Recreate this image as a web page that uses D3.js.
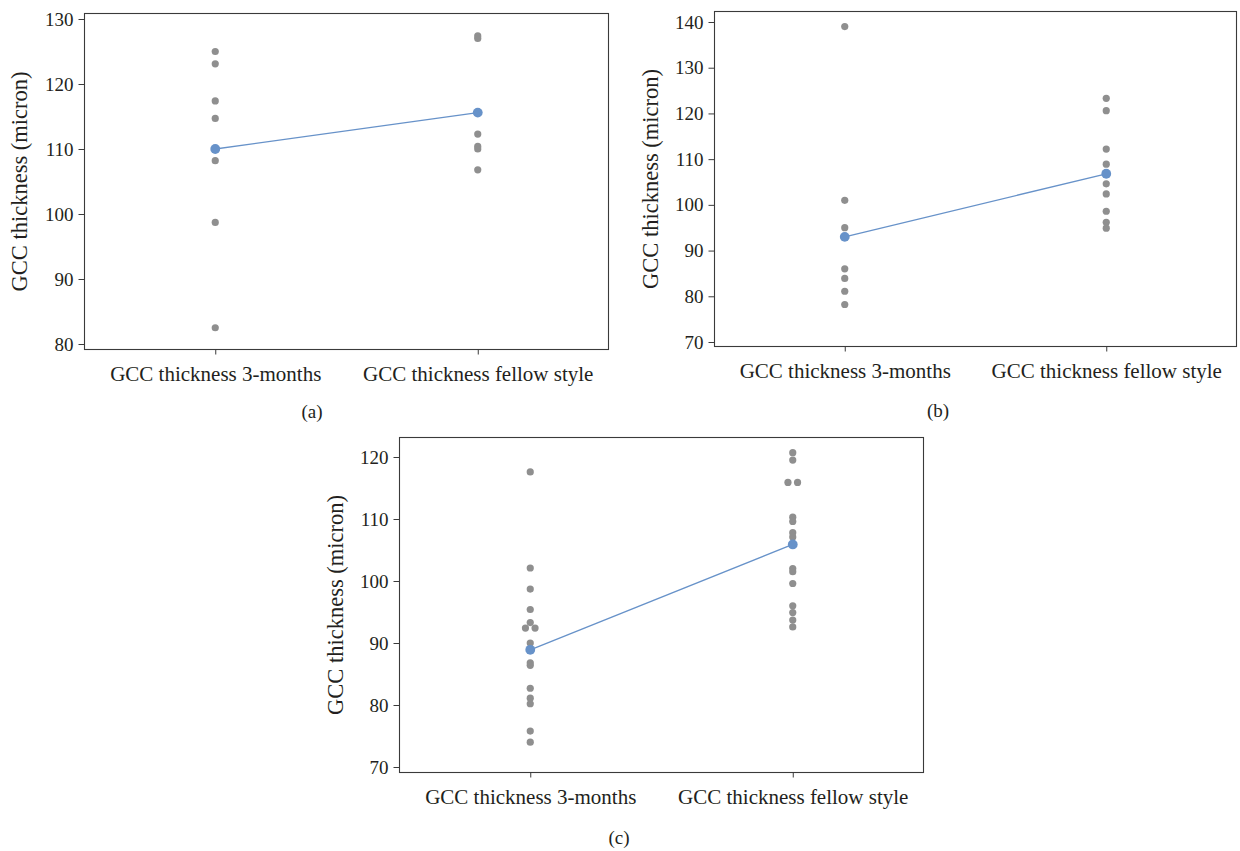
<!DOCTYPE html>
<html>
<head>
<meta charset="utf-8">
<script src="https://cdn.jsdelivr.net/npm/d3@7"></script>
<style>
  html, body { margin: 0; padding: 0; background: #fff; }
  svg { display: block; }
  text { font-family: "Liberation Serif", "Times New Roman", serif; fill: #231f20; }
</style>
</head>
<body>
<svg id="chart" width="1240" height="851"></svg>
<script>
// ---------- data ----------
const categories = ["GCC thickness 3-months", "GCC thickness fellow style"];
const yTitle = "GCC thickness (micron)";

// panel (a)
const aThreeMonths = [125.0, 123.1, 117.4, 114.7, 108.2, 98.7, 82.5];
const aFellow      = [127.4, 127.0, 112.3, 110.4, 110.0, 106.8];
const aMeans       = [110.0, 115.6];
const aTicks       = [80, 90, 100, 110, 120, 130];

// panel (b)
const bThreeMonths = [139.0, 101.0, 95.0, 86.0, 83.9, 81.1, 78.2];
const bFellow      = [123.3, 120.6, 112.2, 108.9, 104.6, 102.4, 98.6, 96.2, 94.9];
const bMeans       = [93.0, 106.8];
const bTicks       = [70, 80, 90, 100, 110, 120, 130, 140];

// panel (c)
const cThreeMonths = [117.6, 102.1, 98.7, 95.4, 93.3, 92.4, 92.4, 90.0, 86.8, 86.4, 82.7, 81.1, 80.2, 75.8, 74.0];
const cFellow      = [120.7, 119.5, 115.9, 115.9, 110.3, 109.6, 107.8, 107.1, 102.0, 101.5, 99.6, 96.0, 94.9, 93.7, 92.6];
const cMeans       = [88.9, 105.9];
const cTicks       = [70, 80, 90, 100, 110, 120];

const panelLabels = ["(a)", "(b)", "(c)"];

// ---------- layout ----------
const panels = [
  { label: panelLabels[0], groups: [aThreeMonths, aFellow], means: aMeans, ticks: aTicks,
    box: { left: 84, right: 609, top: 13, bottom: 350 }, yDomain: [80, 130], yRange: [344, 19],
    titleX: 19, labelX: 312, labelY: 411 },
  { label: panelLabels[1], groups: [bThreeMonths, bFellow], means: bMeans, ticks: bTicks,
    box: { left: 714, right: 1237, top: 11, bottom: 347 }, yDomain: [70, 140], yRange: [342, 22],
    titleX: 650, labelX: 938, labelY: 410 },
  { label: panelLabels[2], groups: [cThreeMonths, cFellow], means: cMeans, ticks: cTicks,
    box: { left: 399, right: 924, top: 437, bottom: 773 }, yDomain: [70, 120], yRange: [767, 457],
    titleX: 335, labelX: 619, labelY: 837 }
];

const GRAY = "#8f8f8f";
const BLUE = "#6792c9";
const AXIS = "#3a3a3a";
const SERIF = '"Liberation Serif", "Times New Roman", serif';

const svg = d3.select("#chart");

panels.forEach(p => {
  const g = svg.append("g");
  const x = d3.scalePoint().domain(categories).range([p.box.left, p.box.right]).padding(0.5);
  const y = d3.scaleLinear().domain(p.yDomain).range(p.yRange);

  // frame
  g.append("rect")
    .attr("x", p.box.left + 0.5).attr("y", p.box.top + 0.5)
    .attr("width", p.box.right - p.box.left - 1).attr("height", p.box.bottom - p.box.top - 1)
    .attr("fill", "none").attr("stroke", AXIS).attr("stroke-width", 1.1);

  // y axis
  const yAxis = d3.axisLeft(y).tickValues(p.ticks).tickSize(6).tickPadding(5);
  const ya = g.append("g").attr("transform", `translate(${p.box.left + 0.5},0)`).call(yAxis)
    .attr("font-family", SERIF);
  ya.select(".domain").remove();
  ya.selectAll(".tick line").attr("stroke", AXIS);
  ya.selectAll(".tick text").style("font-family", SERIF)
    .style("font-size", "19px").attr("fill", "#231f20");

  // x axis
  const xAxis = d3.axisBottom(x).tickSize(5).tickPadding(12);
  const xa = g.append("g").attr("transform", `translate(0,${p.box.bottom - 0.5})`).call(xAxis)
    .attr("font-family", SERIF);
  xa.select(".domain").remove();
  xa.selectAll(".tick line").attr("stroke", AXIS);
  xa.selectAll(".tick text").style("font-family", SERIF)
    .style("font-size", "21px").attr("fill", "#231f20");

  // y title
  const cy = (p.box.top + p.box.bottom) / 2;
  g.append("text")
    .attr("transform", `translate(${p.titleX},${cy}) rotate(-90)`)
    .attr("text-anchor", "middle").attr("dominant-baseline", "central")
    .style("font-family", SERIF)
    .style("font-size", "22.5px")
    .text(yTitle);

  // panel label
  g.append("text")
    .attr("x", p.labelX).attr("y", p.labelY)
    .attr("text-anchor", "middle").attr("dominant-baseline", "central")
    .style("font-family", SERIF)
    .style("font-size", "19px")
    .text(p.label);

  // individual values (ties spread horizontally)
  p.groups.forEach((vals, gi) => {
    const counts = d3.rollup(vals, v => v.length, d => d);
    const seen = new Map();
    const pts = vals.map(v => {
      const k = counts.get(v);
      const i = seen.get(v) || 0;
      seen.set(v, i + 1);
      return { v, dx: (i - (k - 1) / 2) * 9.6 };
    });
    g.selectAll(null).data(pts).enter().append("circle")
      .attr("cx", d => x(categories[gi]) + d.dx)
      .attr("cy", d => y(d.v))
      .attr("r", 3.6)
      .attr("fill", GRAY);
  });

  // mean connect line
  const line = d3.line().x((d, i) => x(categories[i])).y(d => y(d));
  g.append("path").datum(p.means).attr("d", line)
    .attr("fill", "none").attr("stroke", BLUE).attr("stroke-width", 1.3);
  g.selectAll(null).data(p.means).enter().append("circle")
    .attr("cx", (d, i) => x(categories[i])).attr("cy", d => y(d))
    .attr("r", 4.9).attr("fill", BLUE);
});
</script>
</body>
</html>
